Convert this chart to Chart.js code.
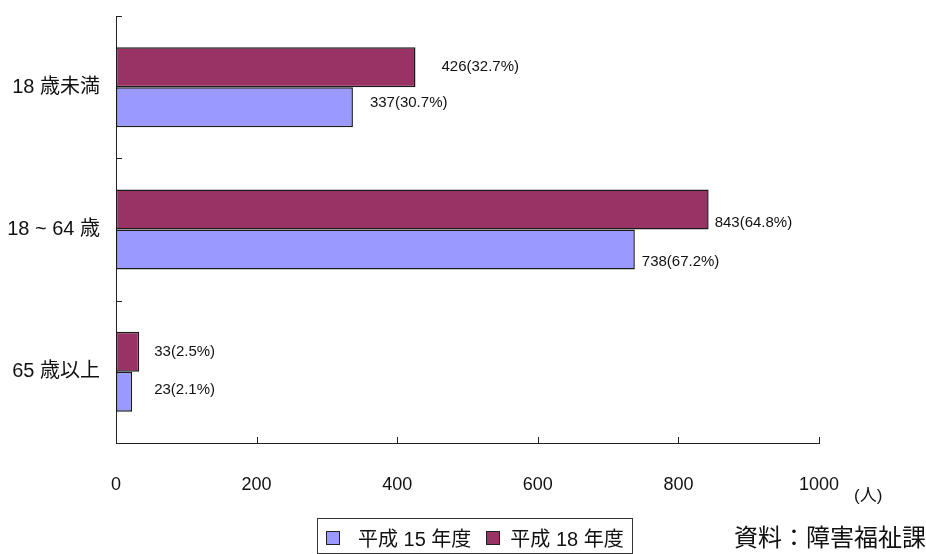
<!DOCTYPE html>
<html lang="ja">
<head>
<meta charset="UTF-8" />
<title>年齢別人数</title>
<script src="https://cdn.jsdelivr.net/npm/chart.js"></script>
<style>
  body {
    margin: 0;
    background: #fff;
    color: #111;
    font-family: 'Liberation Sans', 'Noto Sans CJK JP', sans-serif;
  }
  .wrap {
    position: relative;
    width: 926px;
    height: 554px;
    overflow: hidden;
  }
  canvas {
    position: absolute;
    left: 0;
    top: 0;
  }
  .unit {
    position: absolute;
    left: 854px;
    top: 487px;
    font-size: 17px;
    line-height: 17px;
  }
  .legend {
    position: absolute;
    left: 317px;
    top: 518px;
    width: 316px;
    height: 36px;
    box-sizing: border-box;
    border: 1px solid #333;
    display: flex;
    align-items: center;
    padding-top: 3px;
    font-size: 20px;
    white-space: nowrap;
  }
  .legend .item {
    display: flex;
    align-items: center;
  }
  .legend .swatch {
    width: 12px;
    height: 12px;
    border: 1.5px solid #222;
  }
  .source {
    position: absolute;
    left: 734px;
    top: 526px;
    font-size: 24px;
    line-height: 24px;
  }
</style>
</head>
<body>

<div class="wrap">
  <canvas id="ageChart" width="926" height="554"></canvas>
  <div class="unit">(人)</div>
  <div class="legend" id="legend"></div>
  <div class="source">資料：障害福祉課</div>
</div>

<script>
  const categories = ['18 歳未満', '18 ~ 64 歳', '65 歳以上'];

  const h15Counts = [337, 738, 23];
  const h15Shares = [30.7, 67.2, 2.1];

  const h18Counts = [426, 843, 33];
  const h18Shares = [32.7, 64.8, 2.5];

  const axisMax = 1000;
  const axisStep = 200;

  const FONT = "'Liberation Sans', 'Noto Sans CJK JP', sans-serif";

  // value(share%) text beside each bar; nudges are [dx, dy] from the bar end
  const valueLabels = {
    id: 'valueLabels',
    afterDatasetsDraw(chart, args, opts) {
      const ctx = chart.ctx;
      ctx.save();
      ctx.font = '15px ' + FONT;
      ctx.fillStyle = '#111';
      ctx.textAlign = 'left';
      ctx.textBaseline = 'middle';
      chart.data.datasets.forEach((ds, di) => {
        const meta = chart.getDatasetMeta(di);
        meta.data.forEach((bar, i) => {
          const [dx, dy] = opts.nudge[ds.key][i];
          const text = ds.data[i] + '(' + ds.shares[i].toFixed(1) + '%)';
          ctx.fillText(text, bar.x + dx, bar.y + dy);
        });
      });
      ctx.restore();
    }
  };

  // short tick marks drawn on the inside of both axes
  const innerTicks = {
    id: 'innerTicks',
    afterDraw(chart) {
      const { ctx, chartArea: a, scales: { x, y } } = chart;
      ctx.save();
      ctx.strokeStyle = '#222';
      ctx.lineWidth = 1;
      ctx.beginPath();
      x.ticks.forEach(t => {
        if (t.value === 0) return;
        const px = Math.round(x.getPixelForValue(t.value)) + 0.5;
        ctx.moveTo(px, a.bottom);
        ctx.lineTo(px, a.bottom - 6);
      });
      for (let i = 0; i <= categories.length; i++) {
        const py = Math.round(y.getPixelForValue(i - 0.5)) + 0.5;
        ctx.moveTo(a.left, py);
        ctx.lineTo(a.left + 6, py);
      }
      ctx.stroke();
      ctx.restore();
    }
  };

  const chart = new Chart(document.getElementById('ageChart'), {
    type: 'bar',
    data: {
      labels: categories,
      datasets: [
        {
          key: 'h18',
          label: '平成 18 年度',
          data: h18Counts,
          shares: h18Shares,
          backgroundColor: '#993366',
          borderColor: '#1a1a1a',
          borderWidth: 1.5,
          borderSkipped: false
        },
        {
          key: 'h15',
          label: '平成 15 年度',
          data: h15Counts,
          shares: h15Shares,
          backgroundColor: '#9999ff',
          borderColor: '#1a1a1a',
          borderWidth: 1.5,
          borderSkipped: false
        }
      ]
    },
    options: {
      indexAxis: 'y',
      responsive: false,
      animation: false,
      datasets: {
        bar: { categoryPercentage: 0.562, barPercentage: 1 }
      },
      layout: { padding: { top: 16, right: 107, left: 0, bottom: 0 } },
      scales: {
        x: {
          min: 0,
          max: axisMax,
          grid: { display: false, drawTicks: false },
          border: { display: true, color: '#222', width: 1 },
          ticks: {
            stepSize: axisStep,
            padding: 31,
            color: '#111',
            font: { family: FONT, size: 18 },
            callback: v => String(v)
          },
          afterFit(scale) {
            scale.height = 111;
            scale.paddingLeft = 0;
            scale.paddingRight = 0;
          }
        },
        y: {
          grid: { display: false, drawTicks: false },
          border: { display: true, color: '#222', width: 1 },
          ticks: {
            padding: 16,
            color: '#111',
            font: { family: FONT, size: 20 }
          },
          afterFit(scale) {
            scale.width = 116;
            scale.paddingTop = 0;
            scale.paddingBottom = 0;
          }
        }
      },
      plugins: {
        legend: { display: false },
        tooltip: { enabled: false },
        valueLabels: {
          nudge: {
            h18: [[26, 0], [6, 13], [15, 0]],
            h15: [[17, -4], [7, 12], [22, -2]]
          }
        }
      }
    },
    plugins: [valueLabels, innerTicks]
  });

  // legend box under the axis, older year first
  const legendEl = document.getElementById('legend');
  const gaps = [[8, 18], [15, 10]];
  chart.data.datasets.slice().reverse().forEach((ds, i) => {
    const item = document.createElement('span');
    item.className = 'item';
    item.style.marginLeft = gaps[i][0] + 'px';
    const sw = document.createElement('span');
    sw.className = 'swatch';
    sw.style.background = ds.backgroundColor;
    sw.style.marginRight = gaps[i][1] + 'px';
    item.appendChild(sw);
    item.appendChild(document.createTextNode(ds.label));
    legendEl.appendChild(item);
  });
</script>
</body>
</html>
